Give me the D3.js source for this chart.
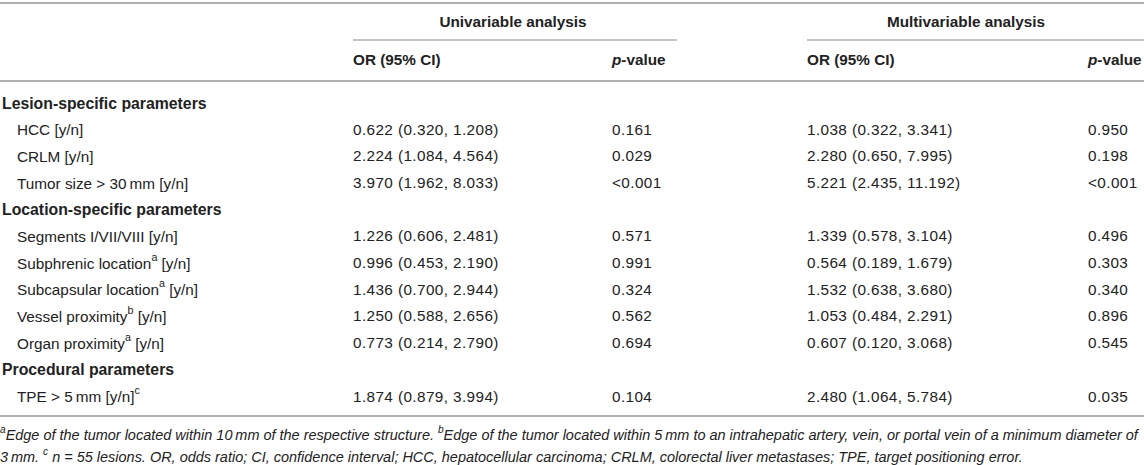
<!DOCTYPE html>
<html>
<head>
<meta charset="utf-8">
<script src="https://cdn.jsdelivr.net/npm/d3@7"></script>
<style>
  body { margin: 0; background: #fff; }
  text { font-family: "Liberation Sans", Arial, Helvetica, sans-serif; fill: #222; }
</style>
</head>
<body>
<div id="table"></div>
<script>
// Table content. "^x" marks a superscript letter; rows without values are section headings.
const rowLabels = [
  "Lesion-specific parameters",
  "HCC [y/n]",
  "CRLM [y/n]",
  "Tumor size > 30\u2009mm [y/n]",
  "Location-specific parameters",
  "Segments I/VII/VIII [y/n]",
  "Subphrenic location^a [y/n]",
  "Subcapsular location^a [y/n]",
  "Vessel proximity^b [y/n]",
  "Organ proximity^a [y/n]",
  "Procedural parameters",
  "TPE > 5\u2009mm [y/n]^c"
];
const uniOR = [null, "0.622 (0.320, 1.208)", "2.224 (1.084, 4.564)", "3.970 (1.962, 8.033)", null,
  "1.226 (0.606, 2.481)", "0.996 (0.453, 2.190)", "1.436 (0.700, 2.944)", "1.250 (0.588, 2.656)",
  "0.773 (0.214, 2.790)", null, "1.874 (0.879, 3.994)"];
const uniP = [null, "0.161", "0.029", "<0.001", null, "0.571", "0.991", "0.324", "0.562", "0.694", null, "0.104"];
const multiOR = [null, "1.038 (0.322, 3.341)", "2.280 (0.650, 7.995)", "5.221 (2.435, 11.192)", null,
  "1.339 (0.578, 3.104)", "0.564 (0.189, 1.679)", "1.532 (0.638, 3.680)", "1.053 (0.484, 2.291)",
  "0.607 (0.120, 3.068)", null, "2.480 (1.064, 5.784)"];
const multiP = [null, "0.950", "0.198", "<0.001", null, "0.496", "0.303", "0.340", "0.896", "0.545", null, "0.035"];

const groupHeaders = ["Univariable analysis", "Multivariable analysis"];
const columnKeys = ["uniOR", "uniP", "multiOR", "multiP"];
const columnHeaders = ["OR (95% CI)", "^p-value", "OR (95% CI)", "^p-value"];
const footnoteLines = [
  "^aEdge of the tumor located within 10\u2009mm of the respective structure. ^bEdge of the tumor located within 5\u2009mm to an intrahepatic artery, vein, or portal vein of a minimum diameter of",
  "3\u2009mm. ^c n = 55 lesions. OR, odds ratio; CI, confidence interval; HCC, hepatocellular carcinoma; CRLM, colorectal liver metastases; TPE, target positioning error."
];

const width = 1144, height = 465;
const fontSize = 15.3;
const sectionSize = 15.8;
const lineColor = "#b0b0b0";

const svg = d3.select("#table").append("svg")
    .attr("width", width)
    .attr("height", height);

// Row and column scales
const yRow = d3.scaleLinear().domain([0, rowLabels.length - 1]).range([102.5, 396]);
const xCol = d3.scaleOrdinal().domain(columnKeys).range([353, 612, 807, 1088]);
const groupSpan = [[353, 677], [807, 1144]];
const groupCenter = [513, 966];

// Split a string with ^x markers into normal / superscript pieces
function pieces(str) {
  const out = [];
  str.split(/(\^[a-z])/).forEach(s => {
    if (!s) return;
    if (s[0] === "^") out.push({t: s[1], sup: true});
    else out.push({t: s, sup: false});
  });
  return out;
}

function richText(g, str, x, y, opts) {
  const t = g.append("text")
      .attr("x", x)
      .attr("y", y)
      .attr("dominant-baseline", "central")
      .style("font-size", opts.size + "px")
      .style("font-weight", opts.bold ? "bold" : "normal")
      .style("font-style", opts.italic ? "italic" : "normal");
  pieces(str).forEach(p => {
    const s = t.append("tspan").text(p.t);
    if (p.sup) s.style("font-size", "0.7em").attr("baseline-shift", "super");
  });
  return t;
}

// Horizontal rules
const rule = (x1, x2, y, w) => svg.append("line")
    .attr("x1", x1).attr("x2", x2).attr("y1", y).attr("y2", y)
    .attr("stroke", lineColor).attr("stroke-width", w);
rule(0, width, 3, 2);
groupSpan.forEach(s => rule(s[0], s[1], 40, 1.5));
rule(0, width, 81, 2);
rule(0, width, 416, 2);

// Group headers
const head = svg.append("g");
groupHeaders.forEach((h, i) => {
  head.append("text")
      .attr("x", groupCenter[i])
      .attr("y", 21)
      .attr("text-anchor", "middle")
      .attr("dominant-baseline", "central")
      .style("font-size", fontSize + "px")
      .style("font-weight", "bold")
      .text(h);
});

// Column headers ("p" of p-value in italics)
columnHeaders.forEach((h, i) => {
  const t = head.append("text")
      .attr("x", xCol(columnKeys[i]))
      .attr("y", 59)
      .attr("dominant-baseline", "central")
      .style("font-size", fontSize + "px")
      .style("font-weight", "bold");
  if (h[0] === "^") {
    t.append("tspan").style("font-style", "italic").text(h[1]);
    t.append("tspan").text(h.slice(2));
  } else {
    t.text(h);
  }
});

// Body rows
const body = svg.append("g");
rowLabels.forEach((label, i) => {
  const section = uniOR[i] === null;
  richText(body, label, section ? 2 : 17, yRow(i),
      {size: section ? sectionSize : fontSize, bold: section});
  if (section) return;
  const vals = {uniOR: uniOR[i], uniP: uniP[i], multiOR: multiOR[i], multiP: multiP[i]};
  columnKeys.forEach(k => {
    body.append("text")
        .attr("x", xCol(k))
        .attr("y", yRow(i))
        .attr("dominant-baseline", "central")
        .style("font-size", fontSize + "px")
        .style("letter-spacing", "0.4px")
        .text(vals[k]);
  });
});

// Footnotes: the first line fills the table width
const foot = svg.append("g");
const notes = footnoteLines.map((line, i) =>
  richText(foot, line, 0, 435 + i * 22, {size: 13, italic: true}));
const fitSize = 13 * 1138 / notes[0].node().getComputedTextLength();
notes.forEach(n => n.style("font-size", fitSize + "px"));
</script>
</body>
</html>
